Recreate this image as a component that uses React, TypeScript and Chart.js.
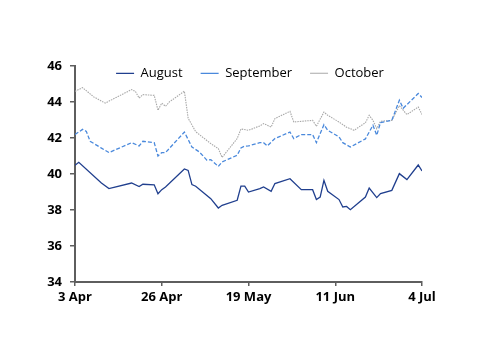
import React, { useEffect, useRef } from "react";
import { Chart, registerables } from "chart.js";

Chart.register(...registerables);

const xTickLabels = ["3 Apr", "26 Apr", "19 May", "11 Jun", "4 Jul"];
const xTickStep = 23;
const xMax = 92;
const yTicks = [34, 36, 38, 40, 42, 44, 46];

const augDays = [0,1,7,9,15,17,18,21,22,23,24,29,30,31,32,36,38,39,43,44,45,46,49,50,52,53,57,60,63,64,65,66,67,70,71,72,73,77,78,80,81,84,86,88,91,92];
const augValues = [40.48,40.65,39.5,39.19,39.5,39.3,39.43,39.4,38.9,39.13,39.28,40.28,40.2,39.41,39.32,38.63,38.11,38.26,38.54,39.33,39.33,39.0,39.19,39.28,39.04,39.47,39.74,39.13,39.13,38.58,38.72,39.65,39.04,38.58,38.17,38.2,38.02,38.72,39.22,38.69,38.91,39.09,40.02,39.69,40.5,40.17];

const sepDays = [0,2,3,4,7,9,15,17,18,21,22,23,24,29,31,33,35,36,38,39,43,44,45,46,49,50,51,53,57,58,60,63,64,66,67,70,71,73,77,79,80,81,84,86,87,91,92];
const sepValues = [42.19,42.48,42.37,41.82,41.44,41.19,41.74,41.56,41.82,41.74,41.0,41.19,41.19,42.33,41.5,41.22,40.76,40.8,40.42,40.67,41.04,41.45,41.55,41.56,41.74,41.74,41.56,41.97,42.33,41.97,42.19,42.19,41.74,42.74,42.43,42.06,41.74,41.5,41.95,42.71,42.15,42.86,42.98,44.1,43.65,44.47,44.25];

const octDays = [0,2,5,8,15,16,17,18,21,22,23,24,25,29,30,32,36,38,39,43,44,46,49,50,52,53,57,58,63,64,66,67,70,72,74,77,78,79,80,81,84,86,88,91,92];
const octValues = [44.59,44.8,44.28,43.94,44.69,44.59,44.22,44.41,44.37,43.54,43.94,43.76,44.0,44.6,43.1,42.35,41.69,41.41,40.92,41.97,42.5,42.43,42.67,42.8,42.61,43.08,43.48,42.89,42.98,42.65,43.44,43.26,42.89,42.6,42.43,42.85,43.26,42.98,42.52,42.93,42.98,43.8,43.3,43.72,43.3];

const seriesNames = ["August", "September", "October"];

const toPoints = (xs: number[], ys: number[]) => xs.map((x, i) => ({ x, y: ys[i] }));

const LEGEND_PAD = 18;
const LEGEND_TOP = 48.8;
const CANVAS_W = 500;

// Lets the legend sit inside the plot area (overlapping), centred on the canvas, as in the reference.
const legendInsidePlugin = {
  id: "legendInside",
  beforeLayout(chart: any) {
    const lg = chart.legend;
    if (lg && !lg.__patched) {
      const orig = lg.fit.bind(lg);
      lg.fit = function () {
        orig();
        this.height = 0;
      };
      lg.__patched = true;
    }
  },
  afterLayout(chart: any) {
    const lg = chart.legend;
    if (lg) {
      lg.top = LEGEND_TOP;
      lg.bottom = LEGEND_TOP + 40;
      lg.left = 0;
      lg.right = CANVAS_W;
      lg.width = CANVAS_W;
    }
  },
};

export default function App() {
  const ref = useRef<HTMLCanvasElement | null>(null);

  useEffect(() => {
    if (!ref.current) return;
    const axisColor = "#5e5e5e";
    const tickFont = { family: "'Open Sans'", size: 13, weight: "bold" as const };
    const chart = new Chart(ref.current, {
      type: "line",
      plugins: [legendInsidePlugin],
      data: {
        datasets: [
          {
            label: seriesNames[0],
            data: toPoints(augDays, augValues),
            borderColor: "#203f8e",
            backgroundColor: "transparent",
            borderWidth: 1.3,
            pointRadius: 0,
            tension: 0,
          },
          {
            label: seriesNames[1],
            data: toPoints(sepDays, sepValues),
            borderColor: "#4a89dc",
            backgroundColor: "transparent",
            borderWidth: 1.3,
            borderDash: [4, 2],
            pointRadius: 0,
            tension: 0,
          },
          {
            label: seriesNames[2],
            data: toPoints(octDays, octValues),
            borderColor: "#a8a8a8",
            backgroundColor: "transparent",
            borderWidth: 1.1,
            borderDash: [1.5, 1],
            pointRadius: 0,
            tension: 0,
          },
        ],
      },
      options: {
        animation: false,
        responsive: false,
        maintainAspectRatio: false,
        layout: { padding: { top: 66, right: 78, bottom: 0, left: 0 } },
        plugins: {
          tooltip: { enabled: false },
          legend: {
            position: "top",
            align: "center",
            labels: {
              usePointStyle: true,
              pointStyle: "line",
              pointStyleWidth: 18,
              boxHeight: 13,
              padding: LEGEND_PAD,
              color: "#000",
              font: { family: "'Open Sans'", size: 13 },
            },
          },
        },
        scales: {
          x: {
            type: "linear",
            min: 0,
            max: xMax,
            afterFit: (s: any) => { s.height = 72; },
            afterBuildTicks: (s: any) => {
              s.ticks = xTickLabels.map((_, i) => ({ value: i * xTickStep }));
            },
            ticks: {
              color: "#000",
              font: tickFont,
              padding: 3,
              maxRotation: 0,
              autoSkip: false,
              callback: (v: any) => xTickLabels[Math.round(Number(v) / xTickStep)] ?? "",
            },
            grid: { drawOnChartArea: false, tickLength: 4, color: axisColor, lineWidth: 1.5 },
            border: { color: axisColor, width: 2 },
          },
          y: {
            min: 34,
            max: 46,
            afterFit: (s: any) => { s.width = 75; },
            afterBuildTicks: (s: any) => {
              s.ticks = yTicks.map((v) => ({ value: v }));
            },
            ticks: { color: "#000", font: tickFont, padding: 8 },
            grid: { drawOnChartArea: false, tickLength: 5, color: axisColor, lineWidth: 1.5 },
            border: { color: axisColor, width: 2 },
          },
        },
      },
    });
    return () => chart.destroy();
  }, []);

  return (
    <div style={{ position: "absolute", left: 0, top: 0, width: 500, height: 354, background: "#fff" }}>
      <canvas ref={ref} width={500} height={354} />
    </div>
  );
}
